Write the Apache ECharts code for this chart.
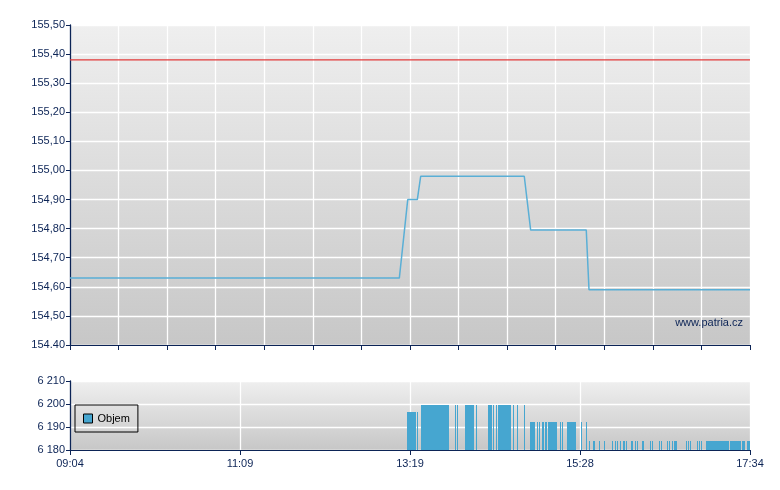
<!DOCTYPE html>
<html><head><meta charset="utf-8">
<script src="https://cdn.jsdelivr.net/npm/echarts@6/dist/echarts.min.js"></script>
<style>html,body{margin:0;padding:0;background:#fff}#c{width:780px;height:490px}</style>
</head><body><div id="c"></div>
<script>
// x values: minutes after 09:04
const timeLabels = ["09:04","11:09","13:19","15:28","17:34"];
const priceTickLabels = ["154.40","154,50","154,60","154,70","154,80","154,90","155,00","155,10","155,20","155,30","155,40","155,50"];
const volTickLabels = ["6 180","6 190","6 200","6 210"];
const priceX = [0, 247, 253.3, 260.5, 263, 340.7, 345.5, 387.2, 389.25, 510];
const priceY = [154.63, 154.63, 154.90, 154.90, 154.98, 154.98, 154.795, 154.795, 154.59, 154.59];
const refPrice = 155.38;
const volStart = [252.75,260.25,263.25,288.75,290.25,296.25,304.5,313.5,317.25,319.5,321,332.25,335.25,340.5,
  345,350.25,351.75,354,356.25,358.5,367.5,369,372.75,383.25,387,
  389.25,392.25,396.75,400.5,406.5,408.75,410.25,412.5,414.75,417,420.75,423.75,425.25,429,435,436.5,441.75,443.25,447.75,449.25,451.5,453,462,463.5,465,470.25,471.75,473.25,477,495,504,507.75];
const volEnd = [259.5,261,284.25,289.5,291,303,305.25,316.5,318,320.25,330.75,333,336,341.25,
  348.75,351,352.5,355.5,357.75,365.25,368.25,369.75,379.5,384,387.75,
  390,393.75,397.5,401.25,407.25,409.5,411,413.25,416.25,417.75,422.25,424.5,426,430.5,435.75,437.25,442.5,444,448.5,450,452.25,455.25,462.75,464.25,465.75,471,472.5,474,494.25,503.25,506.25,510];
const volValue = [6196.5,6196.5,6199.6,6199.6,6199.6,6199.6,6199.6,6199.6,6199.6,6199.6,6199.6,6199.6,6199.6,6199.6,
  6192.2,6192.2,6192.2,6192.2,6192.2,6192.2,6192.2,6192.2,6192.2,6192.2,6192.2,
  6183.9,6183.9,6183.9,6183.9,6183.9,6183.9,6183.9,6183.9,6183.9,6183.9,6183.9,6183.9,6183.9,6183.9,6183.9,6183.9,6183.9,6183.9,6183.9,6183.9,6183.9,6183.9,6183.9,6183.9,6183.9,6183.9,6183.9,6183.9,6183.9,6183.9,6183.9,6183.9];

const navy = '#0c2456';
const font = 'Liberation Sans, Arial, sans-serif';
const bg = {type:'linear',x:0,y:0,x2:0,y2:1,colorStops:[{offset:0,color:'#efefef'},{offset:1,color:'#c7c7c7'}]};
const chart = echarts.init(document.getElementById('c'), null, {renderer:'canvas'});
const priceData = priceX.map((x,i)=>[x, priceY[i]]);
const volData = volStart.map((s,i)=>[s, volEnd[i], volValue[i]]);
chart.setOption({
  animation:false,
  backgroundColor:'#fff',
  grid:[
    {left:70, top:25, width:680, height:320, show:true, backgroundColor:bg, borderWidth:0},
    {left:70, top:381, width:680, height:69, show:true, backgroundColor:bg, borderWidth:0}
  ],
  legend:{
    data:[{name:'Objem', icon:'rect'}],
    left:75, top:405, padding:[8,8,8,8], itemWidth:9, itemHeight:9, itemGap:5,
    borderColor:'#000', borderWidth:1, borderRadius:0, backgroundColor:'transparent',
    textStyle:{fontFamily:font, fontSize:11, color:'#000'},
    itemStyle:{borderColor:'#000', borderWidth:1}
  },
  xAxis:[
    {type:'value', gridIndex:0, min:0, max:510, interval:510/14,
      axisLine:{show:true, onZero:false, lineStyle:{color:navy, width:1}},
      axisTick:{show:true, inside:false, length:5, lineStyle:{color:navy}},
      axisLabel:{show:false},
      splitLine:{show:true, lineStyle:{color:'#ffffff', width:1.3}}},
    {type:'value', gridIndex:1, min:0, max:510, interval:127.5,
      axisLine:{show:true, onZero:false, lineStyle:{color:navy, width:1}},
      axisTick:{show:true, length:5, lineStyle:{color:navy}},
      axisLabel:{show:true, margin:8, fontFamily:font, fontSize:11, color:navy,
        formatter:(v)=>timeLabels[Math.round(v/127.5)]},
      splitLine:{show:true, lineStyle:{color:'#ffffff', width:1.3}}}
  ],
  yAxis:[
    {type:'value', gridIndex:0, min:154.4, max:155.5, interval:0.1,
      axisLine:{show:true, lineStyle:{color:navy, width:1.3}},
      axisTick:{show:true, length:4, lineStyle:{color:navy}},
      axisLabel:{show:true, margin:5, fontFamily:font, fontSize:11, color:navy,
        formatter:(v)=>priceTickLabels[Math.round((v-154.4)*10)]},
      splitLine:{show:true, lineStyle:{color:'#ffffff', width:1.3}}},
    {type:'value', gridIndex:1, min:6180, max:6210, interval:10,
      axisLine:{show:true, lineStyle:{color:navy, width:1.3}},
      axisTick:{show:true, length:4, lineStyle:{color:navy}},
      axisLabel:{show:true, margin:5, fontFamily:font, fontSize:11, color:navy,
        formatter:(v)=>volTickLabels[Math.round((v-6180)/10)]},
      splitLine:{show:true, lineStyle:{color:'#ffffff', width:1.3}}}
  ],
  graphic:[{type:'text', x:743, y:323, z:10, style:{text:'www.patria.cz', textAlign:'right', textVerticalAlign:'middle', fill:navy, font:'11px Liberation Sans, Arial, sans-serif'}}],
  series:[
    {type:'line', name:'ref', xAxisIndex:0, yAxisIndex:0, data:[[0,refPrice],[510,refPrice]], symbol:'none',
      lineStyle:{color:'#e23a3a', width:1.2}, silent:true},
    {type:'line', name:'Cena', xAxisIndex:0, yAxisIndex:0, data:priceData, symbol:'none',
      lineStyle:{color:'#5aafd6', width:1.5}, silent:true},
    {type:'custom', name:'Objem', xAxisIndex:1, yAxisIndex:1, data:volData, clip:true,
      itemStyle:{color:'#46a6d0'},
      encode:{x:[0,1], y:2},
      renderItem:function(params, api){
        const p0 = api.coord([api.value(0), api.value(2)]);
        const p1 = api.coord([api.value(1), 6180]);
        const x0 = Math.round(p0[0]);
        const x1 = Math.max(x0 + 1, Math.round(p1[0]));
        const y0 = Math.round(p0[1]);
        return {type:'rect', shape:{x:x0, y:y0, width:x1-x0, height:p1[1]-y0},
          style:{fill:'#46a6d0'}};
      }}
  ]
});
</script></body></html>
